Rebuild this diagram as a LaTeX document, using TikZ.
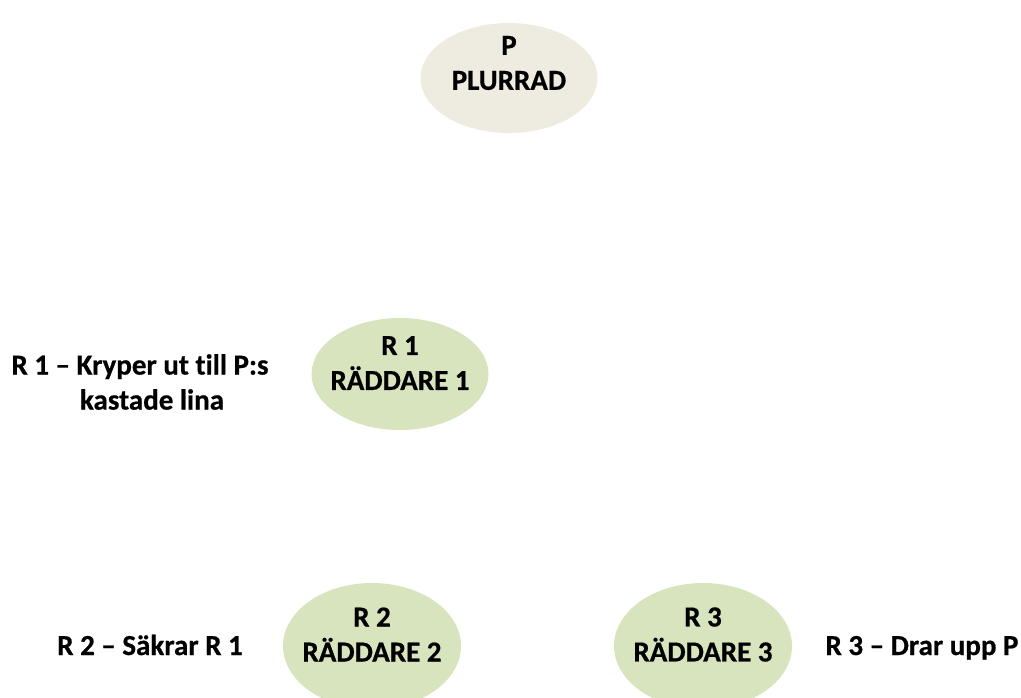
\documentclass[tikz,border=0pt]{standalone}
\usepackage{fontspec}
\setmainfont{Carlito}[Ligatures=NoCommon, BoldFeatures={FakeBold=0.6}]
\usetikzlibrary{shapes.geometric}
\definecolor{plurrad}{HTML}{EEECE1}
\definecolor{raddare}{HTML}{D7E4BD}
\tikzset{
  every node/.style={font=\fontsize{29}{35}\selectfont\bfseries, align=center, inner sep=0pt},
  person/.style={ellipse, draw=none, inner sep=0pt, minimum width=177pt, minimum height=112pt},
}
\begin{document}
\begin{tikzpicture}[x=1pt,y=-1pt]
\useasboundingbox (0,0) rectangle (1021,697);
% ellipses
\node[person, fill=plurrad, minimum height=110pt] (p) at (509,78) {};
\node[person, fill=raddare] (r1) at (400,374) {};
\node[person, fill=raddare, minimum width=178pt, minimum height=126pt] (r2) at (372,646) {};
\node[person, fill=raddare, minimum width=178pt, minimum height=126pt] (r3) at (703,646) {};
% texts
\node (ptext) at (509,63) {P\\PLURRAD};
\node (r1text) at (400,363) {R 1\\RÄDDARE 1};
\node (r2text) at (372,634.5) {R 2\\RÄDDARE 2};
\node (r3text) at (703,634.5) {R 3\\RÄDDARE 3};
\node (r1note) at (152,382) {R 1 – Kryper ut till P:s\kern24pt\\kastade lina};
\node[anchor=base] (r2note) at (150,655) {R 2 – Säkrar R 1};
\node[anchor=base] (r3note) at (922,655) {R 3 – Drar upp P};
\end{tikzpicture}
\end{document}
